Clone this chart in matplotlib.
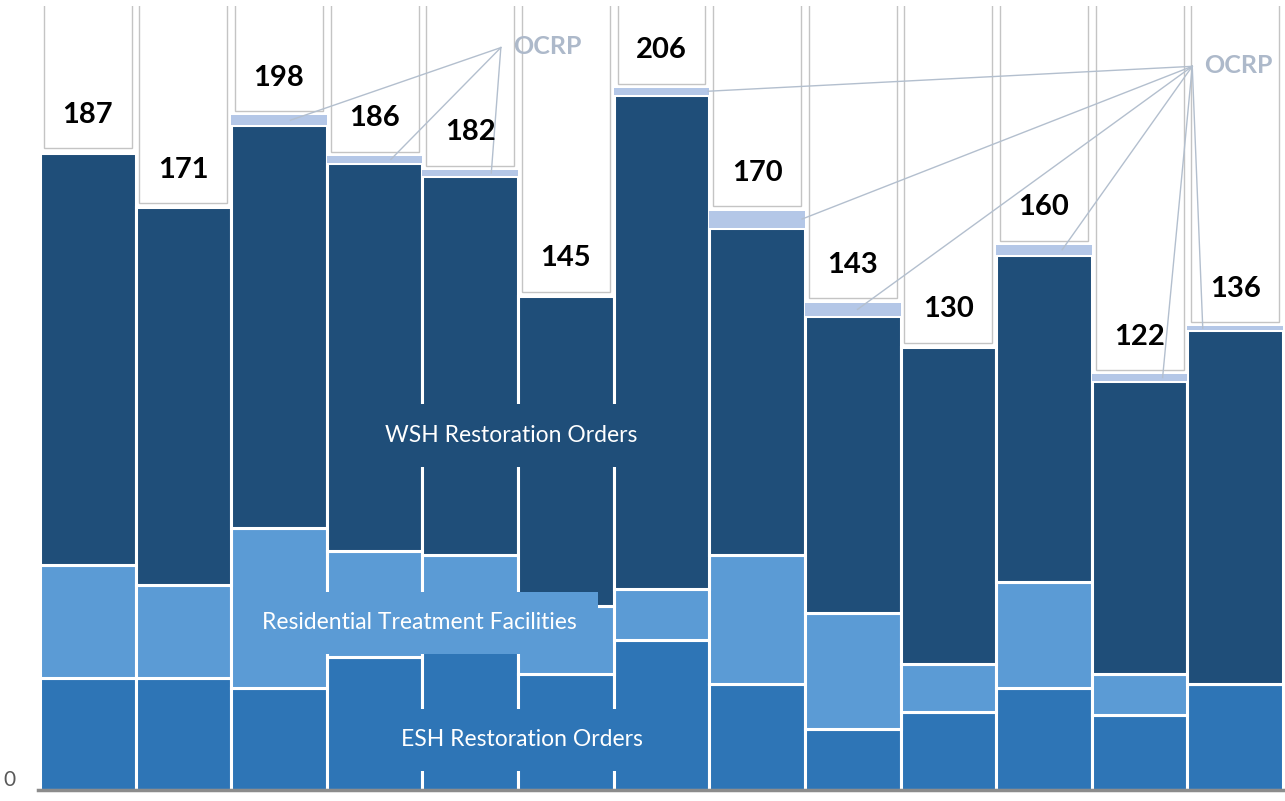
import numpy as np
import matplotlib
matplotlib.use("Agg")
import matplotlib.pyplot as plt

# values
totals = [187, 171, 198, 186, 182, 145, 206, 170, 143, 130, 160, 122, 136]
esh = [33, 33, 30, 39, 41, 34, 44, 31, 18, 23, 30, 22, 31]
rtf = [33, 27, 47, 31, 28, 20, 15, 38, 34, 14, 31, 12, 0]
ocrp = [0, 0, 3, 2, 2, 0, 2, 5, 4, 0, 3, 2, 1]
wsh = [t - e - r - o for t, e, r, o in zip(totals, esh, rtf, ocrp)]

# which bars the two OCRP call-outs point at
ocrp_group1 = [2, 3, 4]
ocrp_group2 = [6, 7, 8, 10, 11, 12]

C_ESH = "#2E75B6"
C_RTF = "#5B9BD5"
C_WSH = "#1F4E79"
C_OCRP = "#B4C7E7"
C_LEAD = "#B3BFCE"
FONT = ["Lato", "DejaVu Sans"]

ymax = 230
x = np.arange(len(totals))

fig = plt.figure(figsize=(12.85, 8.01), dpi=100)
ax = fig.add_axes([38 / 1285, 11 / 801, 1 - 38 / 1285, 784 / 801])

esh_a = np.array(esh)
rtf_a = np.array(rtf)
wsh_a = np.array(wsh)
ocrp_a = np.array(ocrp)
tot_a = np.array(totals)

kw = dict(width=1.0, edgecolor="white", linewidth=2.2, zorder=2)
ax.bar(x, esh_a, color=C_ESH, **kw)
ax.bar(x, rtf_a, bottom=esh_a, color=C_RTF, **kw)
ax.bar(x, wsh_a, bottom=esh_a + rtf_a, color=C_WSH, **kw)
ax.bar(x, ocrp_a, bottom=esh_a + rtf_a + wsh_a, color=C_OCRP,
       width=1.0, edgecolor="none", linewidth=0, zorder=2)

# white "rest" boxes holding the totals
ax.bar(x, ymax + 10 - tot_a, bottom=tot_a + 1.2, width=0.92,
       color="white", edgecolor="#C4C4C4", linewidth=1.0, zorder=1)

for xi, t in zip(x, totals):
    ax.text(xi, t + 11, str(t), ha="center", va="center", fontsize=21,
            fontweight="bold", family=FONT, color="black", zorder=5)

# OCRP leader lines
hub1 = (4.32, 217.8)
hub2 = (11.55, 212.3)
dx1 = [0.12, 0.17, 0.22]
dx2 = [0.49, 0.47, 0.05, 0.19, 0.24, -0.34]
for i, d in zip(ocrp_group1, dx1):
    ym = totals[i] - ocrp[i] / 2
    ax.plot([hub1[0], i + d], [hub1[1], ym], color=C_LEAD, lw=1.0, zorder=3)
for i, d in zip(ocrp_group2, dx2):
    ym = totals[i] - ocrp[i] / 2
    ax.plot([hub2[0], i + d], [hub2[1], ym], color=C_LEAD, lw=1.0, zorder=3)

ax.text(4.45, 218, "OCRP", ha="left", va="center", fontsize=18,
        fontweight="bold", family=FONT, color="#ADB9CA", zorder=5)
ax.text(11.67, 212.5, "OCRP", ha="left", va="center", fontsize=18,
        fontweight="bold", family=FONT, color="#ADB9CA", zorder=5)

# series labels in boxes of their own colour
ax.text(4.43, 104, "WSH Restoration Orders", ha="center", va="center",
        fontsize=16.5, family=FONT, color="white", zorder=6,
        bbox=dict(boxstyle="square,pad=0.9", fc=C_WSH, ec="none"))
ax.text(3.47, 49, "Residential Treatment Facilities", ha="center",
        va="center", fontsize=16.5, family=FONT, color="white", zorder=6,
        bbox=dict(boxstyle="square,pad=0.9", fc=C_RTF, ec="none"))
ax.text(4.54, 14.7, "ESH Restoration Orders", ha="center", va="center",
        fontsize=16.5, family=FONT, color="white", zorder=6,
        bbox=dict(boxstyle="square,pad=0.9", fc=C_ESH, ec="none"))

ax.set_xlim(-0.52, len(totals) - 0.48)
ax.set_ylim(0, ymax)
for s in ["top", "right", "left"]:
    ax.spines[s].set_visible(False)
ax.spines["bottom"].set_color("#8C8C8C")
ax.spines["bottom"].set_linewidth(2.5)
ax.spines["bottom"].set_zorder(7)
ax.set_xticks([])
ax.set_yticks([0])
ax.set_yticklabels(["0"], fontsize=15, color="#595959", family=FONT)
ax.tick_params(axis="y", length=0, pad=16)
for lab in ax.get_yticklabels():
    lab.set_va("bottom")

fig.savefig("out.png", dpi=100)
